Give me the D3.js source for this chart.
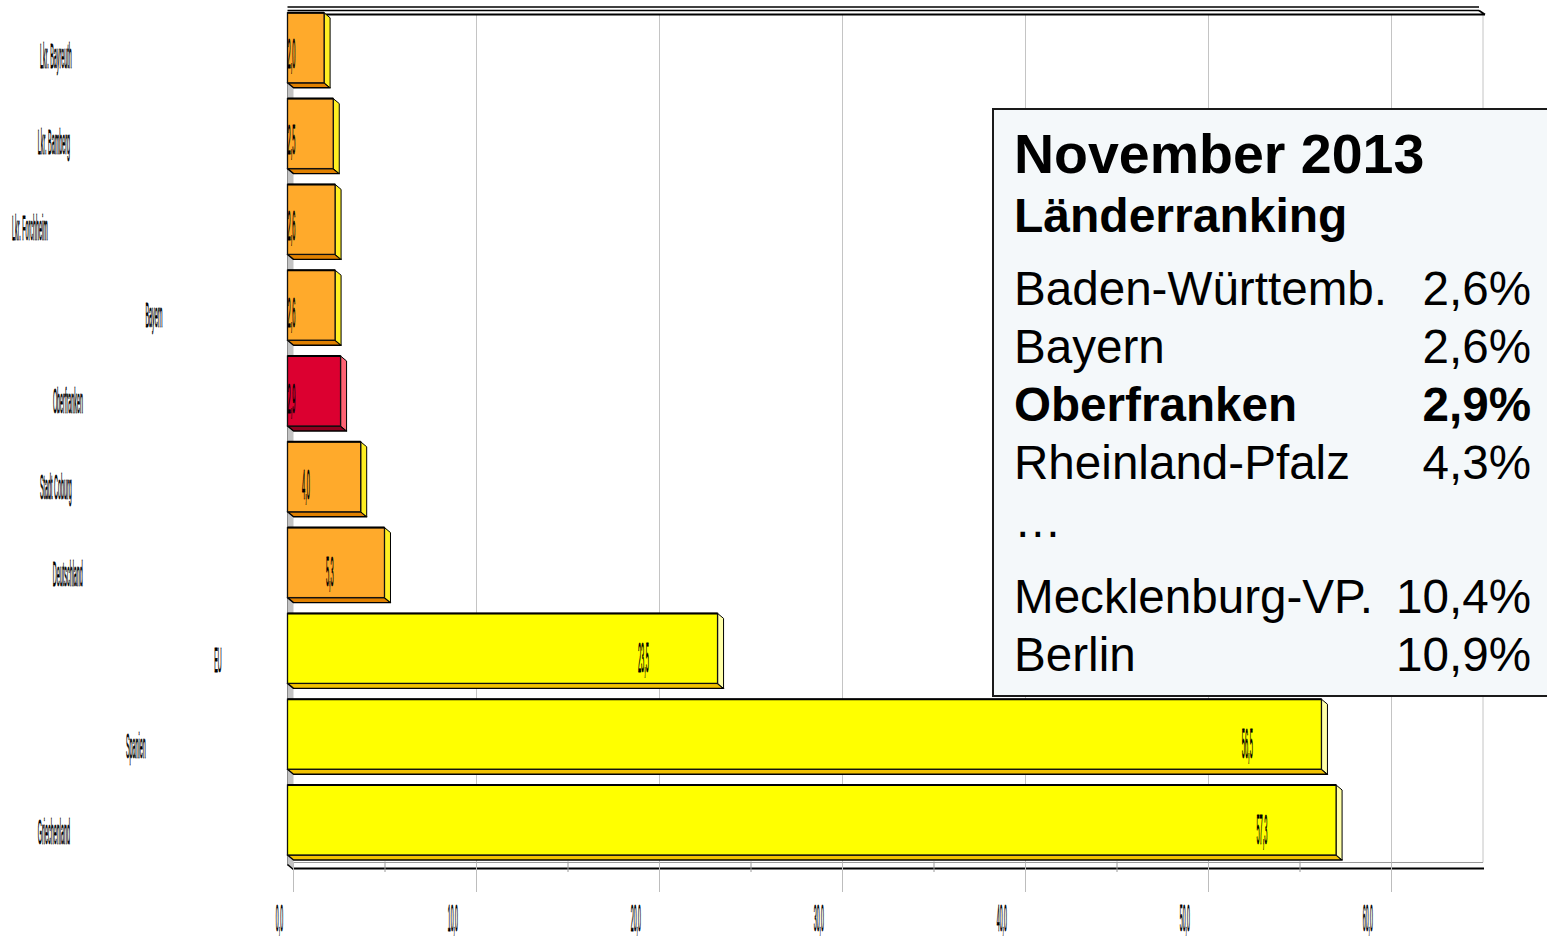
<!DOCTYPE html>
<html><head><meta charset="utf-8">
<script src="https://cdn.jsdelivr.net/npm/d3@7"></script>
<style>
html,body{margin:0;padding:0;background:#fff;}
svg{display:block;}
text{font-family:"Liberation Sans",Arial,sans-serif;}
</style></head>
<body>
<svg id="chart" width="1547" height="938"></svg>
<script>
// ---------- data ----------
const categories = ["Lkr. Bayreuth","Lkr. Bamberg","Lkr. Forchheim","Bayern","Oberfranken","Stadt Coburg","Deutschland","EU","Spanien","Griechenland"];
const values = [2.0, 2.5, 2.6, 2.6, 2.9, 4.0, 5.3, 23.5, 56.5, 57.3];
const highlightCategory = "Oberfranken";
const internationalCategories = ["EU","Spanien","Griechenland"];
const majorTicks = [0,10,20,30,40,50,60];
const minorTicks = [5,15,25,35,45,55];
const axisMax = 65;
const boxTitle = "November 2013";
const boxSubtitle = "Länderranking";
const rankingNames = ["Baden-Württemb.","Bayern","Oberfranken","Rheinland-Pfalz","…","Mecklenburg-VP.","Berlin"];
const rankingValues = ["2,6%","2,6%","2,9%","4,3%","","10,4%","10,9%"];
const rankingBold = ["Oberfranken"];

// ---------- setup ----------
const svg = d3.select("#chart");
const de = d3.formatLocale({decimal:",", thousands:".", grouping:[3], currency:["","€"]});
const fmt = de.format(".1f");

const DX = 6, DY = 5;               // 3D depth offset
const xFront = d3.scaleLinear().domain([0, axisMax]).range([287.5, 287.5 + 18.3*axisMax]);
const xBack = v => xFront(v) + DX;
const y = d3.scaleBand().domain(categories).range([12.8, 855]).paddingInner(0.184).paddingOuter(0);

// text measuring helper (em width)
const meas = svg.append("text").attr("font-size",100).attr("x",-1000).attr("y",-1000);
function emWidth(s, weight){ meas.attr("font-weight", weight||"normal").text(s); return meas.node().getComputedTextLength()/100; }

const palette = {
  region:   {front:"#FFAA2B", side:"#FFEE22", bottom:"#E08000"},
  highlight:{front:"#DC0030", side:"#FF6474", bottom:"#8E001E"},
  intl:     {front:"#FFFF00", side:"#FFFFA8", bottom:"#F2C200"}
};
const kind = c => c === highlightCategory ? "highlight" : (internationalCategories.includes(c) ? "intl" : "region");

const plotBottom = 862.5, axisLineY = 868.5;

function squish(sel){
  return sel.attr("fill","#000").attr("stroke","#000").attr("stroke-width",0.55)
    .attr("vector-effect","non-scaling-stroke");
}

// ---------- gridlines ----------
const grid = svg.append("g");
grid.selectAll("line.g").data(majorTicks.filter(d=>d>0).concat([axisMax])).join("line")
  .attr("x1", d=>xBack(d)).attr("x2", d=>xBack(d))
  .attr("y1", 14.5).attr("y2", plotBottom)
  .attr("stroke", "#C4C4C4").attr("stroke-width", 1);

// ---------- left wall ----------
svg.append("path")
  .attr("d", `M${xFront(0)},12.5 L${xBack(0)},${12.5+DY} L${xBack(0)},${axisLineY+2} L${xFront(0)},${axisLineY-3} Z`)
  .attr("fill", "#C3C3C3");
svg.append("line").attr("x1", xFront(0)).attr("x2", xFront(0)).attr("y1", 12).attr("y2", axisLineY-3)
  .attr("stroke", "#8a8a8a").attr("stroke-width", 1);

// ---------- top frame ----------
const topG = svg.append("g").attr("stroke","#000").attr("fill","none");
topG.append("line").attr("x1", xFront(0)).attr("x2", xBack(axisMax)-4).attr("y1", 7).attr("y2", 7).attr("stroke-width", 1.5);
topG.append("line").attr("x1", xFront(0)).attr("x2", xBack(axisMax)-4).attr("y1", 10.5).attr("y2", 10.5).attr("stroke-width", 1.5);
topG.append("path").attr("d", `M${xFront(0)},14.5 L${xBack(axisMax)+2},14.5 M${xBack(axisMax)-4},10.5 L${xBack(axisMax)+2},14.5`).attr("stroke-width", 1.8);

// ---------- bottom axis ----------
const botG = svg.append("g");
botG.append("line").attr("x1", xBack(0)).attr("x2", xBack(axisMax)).attr("y1", plotBottom).attr("y2", plotBottom).attr("stroke","#9a9a9a").attr("stroke-width",1);
botG.append("line").attr("x1", xBack(0)).attr("x2", xBack(axisMax)+1).attr("y1", axisLineY).attr("y2", axisLineY).attr("stroke","#000").attr("stroke-width",2);
botG.append("line").attr("x1", xFront(0)).attr("y1", axisLineY-4).attr("x2", xBack(0)).attr("y2", axisLineY+1).attr("stroke","#000").attr("stroke-width",1.5);
botG.selectAll("line.maj").data(majorTicks).join("line")
  .attr("x1", d=>xBack(d)).attr("x2", d=>xBack(d)).attr("y1", plotBottom).attr("y2", 892)
  .attr("stroke", "#BDBDBD").attr("stroke-width", 1);
botG.selectAll("line.min").data(minorTicks).join("line")
  .attr("x1", d=>xBack(d)).attr("x2", d=>xBack(d)).attr("y1", plotBottom-1).attr("y2", 872)
  .attr("stroke", "#9a9a9a").attr("stroke-width", 1);
botG.selectAll("text.tick").data(majorTicks).join("text")
  .attr("font-size", 37).attr("text-anchor","middle")
  .attr("transform", d => { const s = fmt(d); return `translate(${xBack(d) + 10 - 17.3*emWidth(s)},931) scale(0.14,1)`; })
  .call(squish)
  .text(d => fmt(d));

// ---------- bars ----------
const bars = svg.append("g");
categories.forEach((c, i) => {
  const v = values[i];
  const p = palette[kind(c)];
  const x0 = xFront(0), x1 = xFront(v);
  const yt = y(c), yb = y(c) + y.bandwidth();
  const g = bars.append("g");
  g.append("path").attr("d", `M${x0},${yb} L${x1},${yb} L${x1+DX},${yb+DY} L${x0+DX},${yb+DY} Z`)
    .attr("fill", p.bottom).attr("stroke","#000").attr("stroke-width",1.4).attr("stroke-linejoin","round");
  g.append("path").attr("d", `M${x1},${yt} L${x1+DX},${yt+DY} L${x1+DX},${yb+DY} L${x1},${yb} Z`)
    .attr("fill", p.side).attr("stroke","#000").attr("stroke-width",1).attr("stroke-linejoin","round");
  g.append("rect").attr("x", x0).attr("y", yt).attr("width", x1-x0).attr("height", yb-yt)
    .attr("fill", p.front).attr("stroke","#111").attr("stroke-width",1.3);
  g.append("line").attr("x1", x0).attr("x2", x1).attr("y1", yt).attr("y2", yt).attr("stroke","#000").attr("stroke-width",2);
});

// ---------- value labels ----------
svg.append("defs").append("clipPath").attr("id","plotclip")
  .append("rect").attr("x", xFront(0)).attr("y", 0).attr("width", 1300).attr("height", 900);
const vl = svg.append("g").attr("clip-path","url(#plotclip)");
categories.forEach((c, i) => {
  const s = fmt(values[i]);
  const cx = Math.max(xFront(values[i]) - 6 - 35*emWidth(s), xFront(0) + 4);
  const base = y(c) + y.bandwidth()/2 + 20 + 0.5*i;
  vl.append("text").attr("font-size", 42).attr("text-anchor","middle")
    .attr("transform", `translate(${cx},${base}) scale(0.135,1)`).call(squish).text(s);
});

// ---------- category labels ----------
const cl = svg.append("g");
categories.forEach((c, i) => {
  const cx = 268 - 36*emWidth(c);
  const base = y(c) + y.bandwidth()/2 + 20 + 0.5*i;
  cl.append("text").attr("font-size", 36).attr("text-anchor","middle")
    .attr("transform", `translate(${cx},${base}) scale(0.15,1)`).call(squish).text(c);
});

// ---------- info box ----------
const box = svg.append("g");
box.append("rect").attr("x", 993).attr("y", 109).attr("width", 620).attr("height", 587)
  .attr("fill", "#F4F8FA").attr("stroke", "#1a1a1a").attr("stroke-width", 2);
box.append("text").attr("x", 1014).attr("y", 173).attr("font-size", 55.5).attr("font-weight","bold").attr("fill","#000").text(boxTitle);
box.append("text").attr("x", 1014).attr("y", 232).attr("font-size", 48).attr("font-weight","bold").attr("fill","#000").text(boxSubtitle);
let yy = 305;
rankingNames.forEach((n, i) => {
  const bold = rankingBold.includes(n) ? "bold" : "normal";
  box.append("text").attr("x", 1014).attr("y", yy).attr("font-size", 47.6).attr("font-weight", bold).attr("fill","#000").text(n);
  box.append("text").attr("x", 1531).attr("y", yy).attr("font-size", 47.6).attr("font-weight", bold).attr("text-anchor","end").attr("fill","#000").text(rankingValues[i]);
  yy += (n === "…") ? 76 : 58;
});
meas.remove();
</script>
</body></html>
